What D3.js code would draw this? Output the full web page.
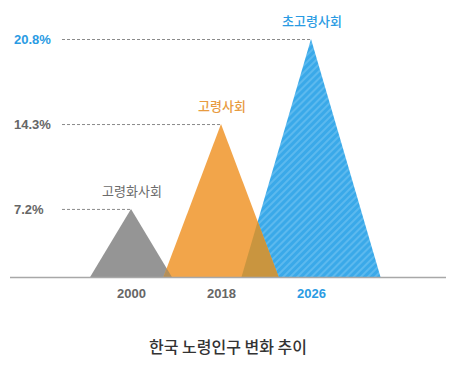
<!DOCTYPE html>
<html>
<head>
<meta charset="utf-8">
<script src="https://cdn.jsdelivr.net/npm/d3@7"></script>
<style>
  html, body { margin: 0; padding: 0; background: #fff; }
  svg { display: block; }
</style>
</head>
<body>
<svg id="chart" width="456" height="365"></svg>
<script>
// ---- data ----
const years = ['2000', '2018', '2026'];
const values = [7.2, 14.3, 20.8];
const stageLabels = ['고령화사회', '고령사회', '초고령사회'];
const valueLabels = ['7.2%', '14.3%', '20.8%'];
const chartTitle = '한국 노령인구 변화 추이';

// ---- styles ----
const fills = ['#959595', '#f2a54a', 'url(#hatch)'];
const textColors = ['#6b6b6b', '#e89b3f', '#2a9be3'];
const tickColors = ['#666666', '#666666', '#2a9be3'];
const overlapFill = { gray: '#b48f59', blue: '#c9953f' };

const svg = d3.select('#chart');
const W = 456, H = 365;
const baseY = 277;

const x = d3.scalePoint().domain(years).range([86, 356]).padding(0.5);
const y = d3.scalePow().exponent(1.18).domain([0, 20.8]).range([baseY, 39]);
const halfW = d3.scaleSqrt().domain([0, 20.8]).range([0, 69.5]);

const data = years.map((yr, i) => ({ yr, v: values[i], label: stageLabels[i], vl: valueLabels[i], i }));

// pattern for blue hatch
const defs = svg.append('defs');
const pat = defs.append('pattern')
  .attr('id', 'hatch')
  .attr('patternUnits', 'userSpaceOnUse')
  .attr('width', 5).attr('height', 5)
  .attr('patternTransform', 'rotate(45)');
pat.append('rect').attr('width', 5).attr('height', 5).attr('fill', '#3aa9e9');
pat.append('rect').attr('width', 2).attr('height', 5).attr('fill', '#5cb9ee');

const tri = d => {
  const cx = x(d.yr), hw = halfW(d.v);
  const p = d3.path();
  p.moveTo(cx - hw, baseY);
  p.lineTo(cx, y(d.v));
  p.lineTo(cx + hw, baseY);
  p.closePath();
  return p.toString();
};

// clip paths for overlaps
data.forEach(d => {
  defs.append('clipPath').attr('id', 'clip' + d.i)
    .append('path').attr('d', tri(d));
});

// dashed guide lines
svg.append('g').selectAll('line').data(data).join('line')
  .attr('x1', 62).attr('x2', d => x(d.yr))
  .attr('y1', d => y(d.v) + 0.5).attr('y2', d => y(d.v) + 0.5)
  .attr('stroke', '#8a8a8a').attr('stroke-width', 1)
  .attr('stroke-dasharray', '3,2');

// value labels (left)
svg.append('g').selectAll('text').data(data).join('text')
  .attr('x', 14).attr('y', d => y(d.v))
  .attr('dy', '0.36em')
  .attr('font-family', 'Liberation Sans, Arial, sans-serif')
  .attr('font-weight', 'bold').attr('font-size', 13)
  .attr('fill', d => tickColors[d.i])
  .text(d => d.vl);

// triangles: gray, blue, orange (orange on top)
const order = [0, 2, 1];
svg.append('g').selectAll('path').data(order.map(i => data[i])).join('path')
  .attr('d', tri)
  .attr('fill', d => fills[d.i]);

// overlap regions (orange ∩ gray, orange ∩ blue)
svg.append('g').attr('clip-path', 'url(#clip0)')
  .append('path').attr('d', tri(data[1])).attr('fill', overlapFill.gray);
svg.append('g').attr('clip-path', 'url(#clip2)')
  .append('path').attr('d', tri(data[1])).attr('fill', overlapFill.blue);

// baseline
svg.append('line')
  .attr('x1', 10).attr('x2', 446)
  .attr('y1', baseY + 0.5).attr('y2', baseY + 0.5)
  .attr('stroke', '#a8a8a8').attr('stroke-width', 1.5);

// x axis tick labels
const xAxis = d3.axisBottom(x).tickSize(0).tickPadding(0);
const gx = svg.append('g').attr('transform', `translate(0,${baseY + 12})`).call(xAxis);
gx.select('.domain').remove();
gx.selectAll('text')
  .attr('font-family', 'Liberation Sans, Arial, sans-serif')
  .attr('font-weight', 'bold').attr('font-size', 13)
  .attr('fill', (d, i) => tickColors[i]);

// stage labels above apex
svg.append('g').selectAll('text').data(data).join('text')
  .attr('x', d => x(d.yr) + 1)
  .attr('y', d => y(d.v) - 13)
  .attr('text-anchor', 'middle')
  .attr('font-family', 'Noto Sans CJK KR, sans-serif')
  .attr('font-weight', d => d.i === 0 ? 400 : 500)
  .attr('font-size', 13)
  .attr('fill', d => textColors[d.i])
  .text(d => d.label);

// title
svg.append('text')
  .attr('x', W / 2).attr('y', 353)
  .attr('text-anchor', 'middle')
  .attr('font-family', 'Noto Sans CJK KR, sans-serif')
  .attr('font-weight', 500)
  .attr('font-size', 16)
  .attr('fill', '#333')
  .text(chartTitle);
</script>
</body>
</html>
